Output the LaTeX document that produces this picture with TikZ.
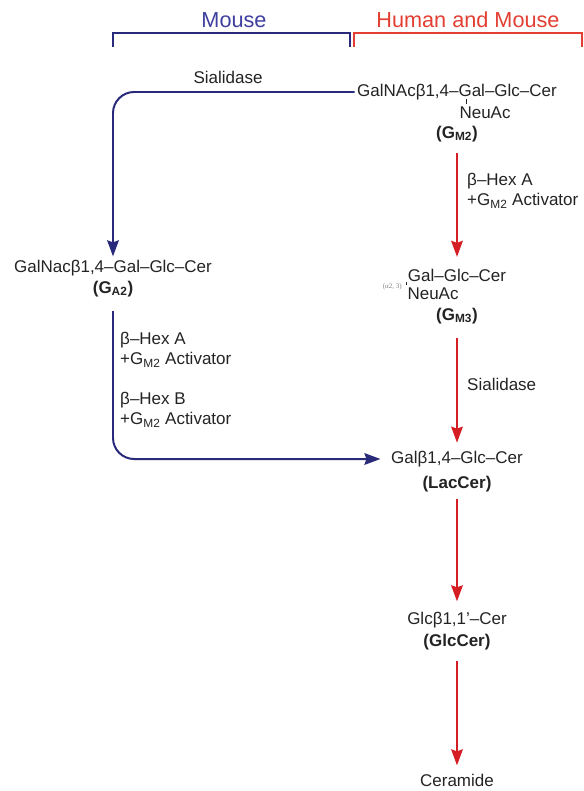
\documentclass[tikz,border=0pt]{standalone}
\usepackage{fontspec}
\setmainfont{Liberation Sans}
\newfontfamily\linkfont{Liberation Serif}
\usetikzlibrary{arrows.meta}

\definecolor{mouseblue}{RGB}{42,42,122}
\definecolor{headblue}{RGB}{62,62,158}
\definecolor{humanred}{RGB}{212,30,36}
\definecolor{headred}{RGB}{226,62,50}
\definecolor{txt}{RGB}{35,35,35}

\begin{document}
\begin{tikzpicture}[x=0.03cm,y=-0.03cm,>={Stealth[length=4.8mm,width=3.5mm,inset=0.6mm]},
    every node/.style={font=\fontsize{14.5}{17}\selectfont,text=txt},
    lipid/.style={inner sep=2pt}, enzyme/.style={anchor=west,align=left,inner sep=0pt},
    head/.style={font=\fontsize{18.5}{20}\selectfont},
    bond/.style={draw=txt,line width=0.6pt},
    mouse path/.style={->,draw=mouseblue,line width=1.7pt,rounded corners=18},
    human path/.style={->,draw=humanred,line width=1.4pt}]

  \useasboundingbox (0,0) rectangle (583,791);

  % species brackets
  \node[head,text=headblue] (mouse) at (234,20) {Mouse};
  \node[head,text=headred]  (human) at (468,20) {Human and Mouse};
  \draw[mouseblue,line width=1.3pt] (113,47) -- (113,33) -- (350,33) -- (350,47);
  \draw[headred,line width=1pt] (354,47) -- (354,33) -- (582,33) -- (582,47);

  % glycolipids
  \node[lipid]             (gmtwo)      at (457,92)  {GalNAcβ1,4–Gal–Glc–Cer};
  \node[lipid,anchor=west] (gmtwoneu)   at (457,113) {NeuAc};
  \node[lipid]             (gmtwoname)  at (457,134) {\bfseries (G\textsubscript{M2})};
  \coordinate (gmtwobond) at (466,99);

  \node[lipid]             (gatwo)      at (113,268) {GalNacβ1,4–Gal–Glc–Cer};
  \node[lipid]             (gatwoname)  at (113,289) {\bfseries (G\textsubscript{A2})};

  \node[lipid]             (gmthree)     at (457,275) {Gal–Glc–Cer};
  \node[lipid,anchor=west] (gmthreeneu)  at (405,294) {NeuAc};
  \node[lipid]             (gmthreename) at (457,316) {\bfseries (G\textsubscript{M3})};
  \node[anchor=east,inner sep=0pt,text=gray,font=\linkfont\fontsize{6}{7}\selectfont]
                           (linkage)     at (402,287) {(α2, 3)};
  \coordinate (gmthreebond) at (406,282);

  \node[lipid]             (lac)      at (457,459) {Galβ1,4–Glc–Cer};
  \node[lipid]             (lacname)  at (457,484) {\bfseries (LacCer)};
  \node[lipid]             (glc)      at (457,620) {Glcβ1,1'–Cer};
  \node[lipid]             (glcname)  at (457,642) {\bfseries (GlcCer)};
  \node[lipid]             (cer)      at (457,780) {Ceramide};

  % enzymes
  \node (sialleft) at (228,77) {Sialidase};
  \node[enzyme] (hexright)  at (467,191) {β–Hex A\\+G\textsubscript{M2} Activator};
  \node[enzyme] (sialright) at (467,384) {Sialidase};
  \node[enzyme] (hexaleft)  at (120,350) {β–Hex A\\+G\textsubscript{M2} Activator};
  \node[enzyme] (hexbleft)  at (120,410) {β–Hex B\\+G\textsubscript{M2} Activator};

  % sialic acid bonds
  \draw[bond] (gmtwobond) -- (gmtwobond |- gmtwoneu.north);
  \draw[bond] (gmthreebond) -- (gmthreebond |- gmthreeneu.north);

  % mouse route
  \draw[mouse path,shorten >=1pt] (gmtwo.west) -| (gatwo);
  \draw[mouse path,shorten <=10pt,shorten >=7pt] (gatwoname) |- (lac);

  % human and mouse route
  \draw[human path,shorten <=7pt,shorten >=8pt]  (gmtwoname) -- (gmthree);
  \draw[human path,shorten <=10pt,shorten >=5pt] (gmthreename) -- (lac);
  \draw[human path,shorten <=4pt,shorten >=7pt]  (lacname) -- (glc);
  \draw[human path,shorten <=7pt,shorten >=5pt]  (glcname) -- (cer);

\end{tikzpicture}
\end{document}
